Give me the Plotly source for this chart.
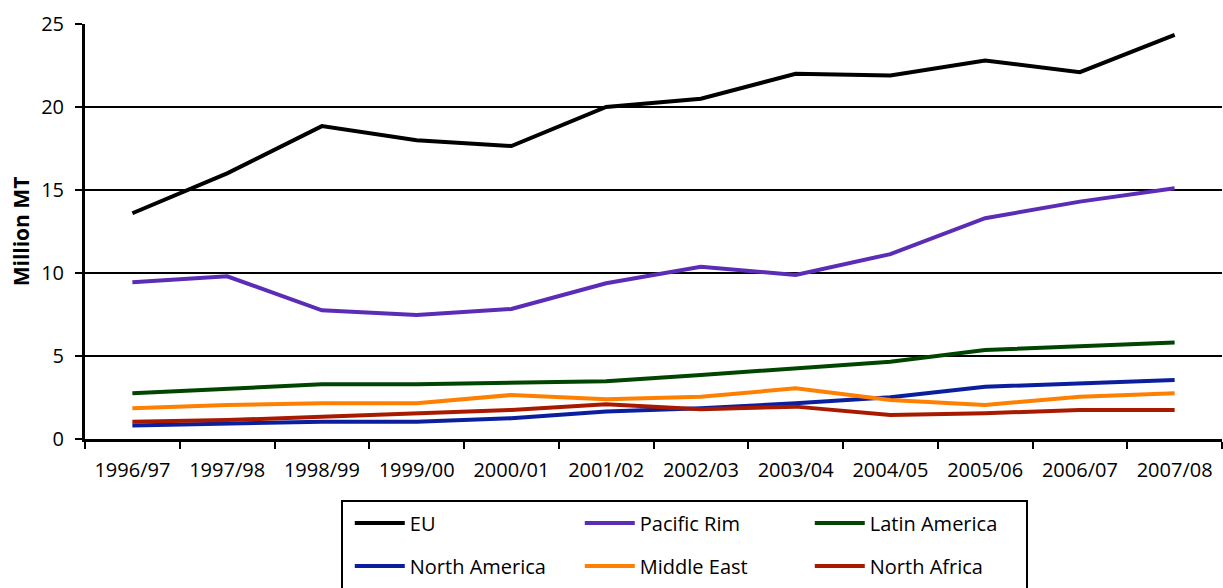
import plotly.graph_objects as go

seasons = ["1996/97", "1997/98", "1998/99", "1999/00", "2000/01", "2001/02",
           "2002/03", "2003/04", "2004/05", "2005/06", "2006/07", "2007/08"]

eu = [13.6, 16.0, 18.85, 18.0, 17.65, 20.0, 20.5, 22.0, 21.9, 22.8, 22.1, 24.35]
pacific_rim = [9.45, 9.8, 7.75, 7.47, 7.83, 9.38, 10.38, 9.88, 11.14, 13.3, 14.3, 15.1]
latin_america = [2.75, 3.0, 3.3, 3.3, 3.36, 3.48, 3.86, 4.26, 4.66, 5.36, 5.6, 5.82]
north_america = [0.82, 0.9, 1.04, 1.04, 1.25, 1.65, 1.85, 2.15, 2.51, 3.15, 3.35, 3.55]
middle_east = [1.85, 2.05, 2.15, 2.15, 2.65, 2.39, 2.55, 3.05, 2.35, 2.05, 2.55, 2.75]
north_africa = [1.04, 1.14, 1.34, 1.55, 1.75, 2.1, 1.79, 1.95, 1.45, 1.55, 1.75, 1.75]

series = [
    ("EU", eu, "#000000", "legend"),
    ("Pacific Rim", pacific_rim, "#5B2CB6", "legend"),
    ("Latin America", latin_america, "#004600", "legend"),
    ("North America", north_america, "#0A1E9E", "legend2"),
    ("Middle East", middle_east, "#FF8000", "legend2"),
    ("North Africa", north_africa, "#A81A00", "legend2"),
]

FONT = "'Open Sans', Lato, sans-serif"

fig = go.Figure()
for name, vals, color, leg in series:
    fig.add_trace(go.Scatter(x=seasons, y=vals, mode="lines", name=name,
                             line=dict(color=color, width=4), legend=leg))

leg_common = dict(orientation="h", xref="container", yref="container",
                  xanchor="left", yanchor="middle",
                  font=dict(size=20, color="#000", family=FONT),
                  bgcolor="rgba(0,0,0,0)", borderwidth=0, entrywidth=165,
                  entrywidthmode="pixels", itemwidth=50, tracegroupgap=0)

fig.update_layout(
    width=1223, height=588, autosize=False,
    margin=dict(l=85, r=1, t=24, b=149),
    paper_bgcolor="white", plot_bgcolor="white",
    font=dict(family=FONT, size=20, color="#000"),
    showlegend=True,
    legend=dict(x=0.286, y=1 - 523 / 588, **leg_common),
    legend2=dict(x=0.286, y=1 - 566 / 588, **leg_common),
    xaxis=dict(type="category", range=[-0.5, 11.5], tickson="boundaries",
               ticks="outside", ticklen=7, tickwidth=2, tickcolor="#000",
               showline=True, linecolor="#000", linewidth=3, showgrid=False,
               tickfont=dict(size=20), ticklabelstandoff=11, automargin=False),
    yaxis=dict(range=[0, 25], dtick=5, ticks="outside", ticklen=7, tickwidth=2,
               tickcolor="#000", showline=True, linecolor="#000", linewidth=3,
               showgrid=True, gridcolor="#000", gridwidth=2, zeroline=False,
               tickfont=dict(size=20), ticklabelstandoff=7, automargin=False,
               title=dict(text="<b>Million MT</b>", font=dict(size=21), standoff=6)),
    shapes=[dict(type="rect", xref="paper", yref="paper",
                 x0=(342 - 85) / 1137, x1=(1027 - 85) / 1137,
                 y0=(439 - 501) / 415, y1=(439 - 620) / 415,
                 line=dict(color="#000", width=2), fillcolor="rgba(0,0,0,0)")],
)

fig.write_html("out.html", config={"displayModeBar": False},
               post_script="document.body.style.margin='0';")
